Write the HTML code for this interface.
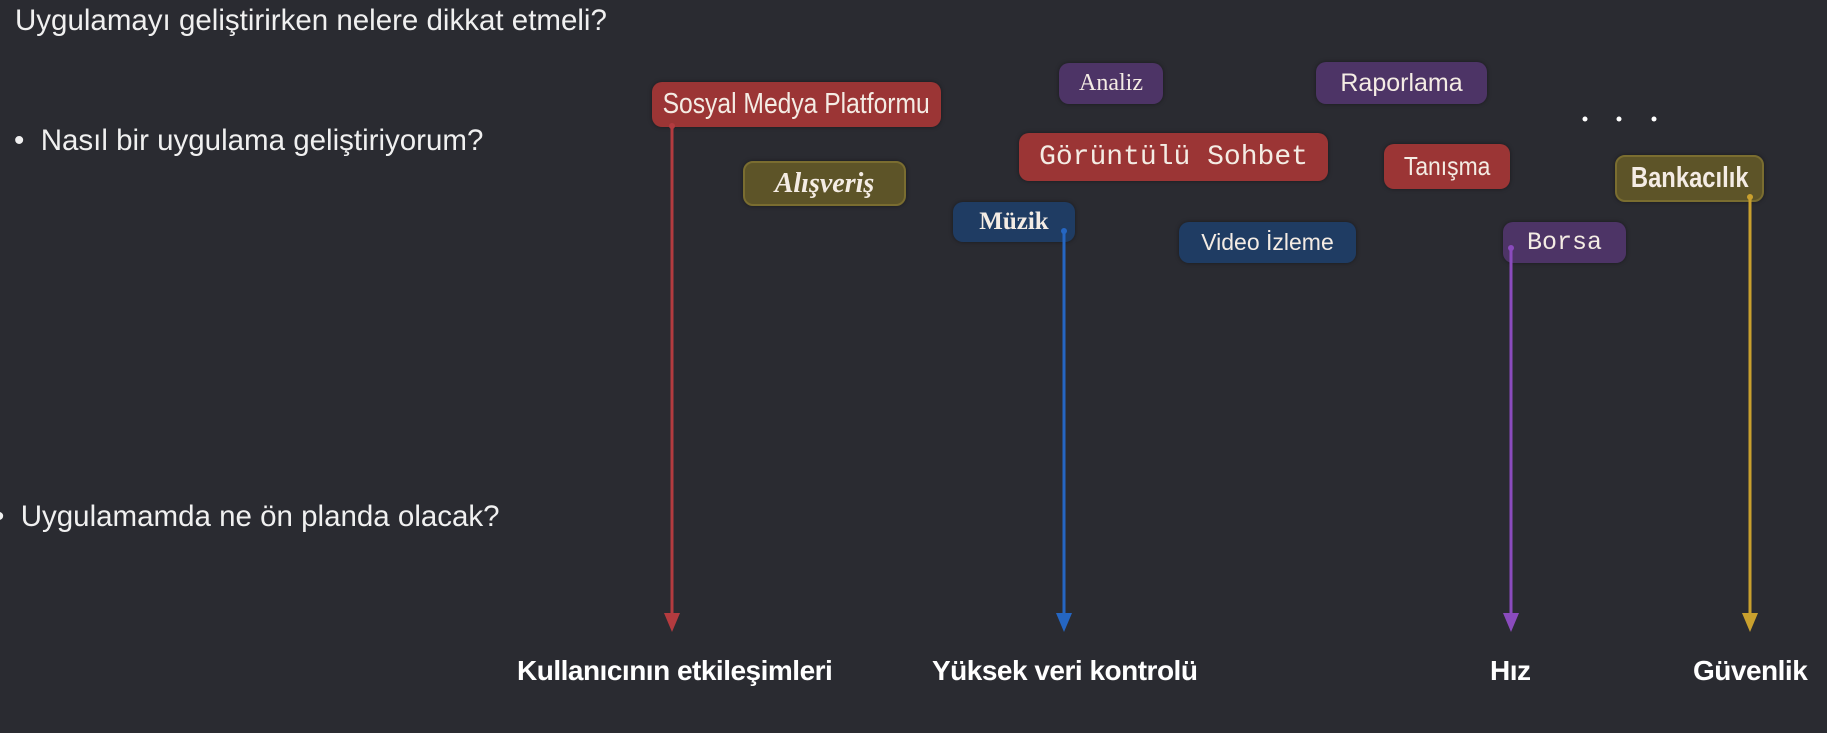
<!DOCTYPE html>
<html><head><meta charset="utf-8"><style>
html,body{margin:0;padding:0}
body{width:1827px;height:733px;background:#2a2b31;position:relative;overflow:hidden;font-family:"Liberation Sans",sans-serif;color:#f0f0f0}
.t{position:absolute;white-space:nowrap;font-size:29.5px}
.b{position:absolute;border-radius:10px;display:flex;align-items:center;justify-content:center;color:#f4ece4;white-space:nowrap;box-shadow:0 0 4px rgba(0,0,0,.4)}
.b span{display:inline-block}
.red{background:#9b3535}.oli{background:#5d5428;border:2px solid #7a6d30;box-sizing:border-box}.pur{background:#4d3466}.blu{background:#1f3c63}
.lab{position:absolute;top:655px;font-weight:bold;font-size:28px;color:#fff;white-space:nowrap;letter-spacing:-0.5px}
</style></head><body>
<div class="t" style="left:15px;top:4px">Uygulamayı geliştirirken nelere dikkat etmeli?</div>
<div class="t" style="left:14px;top:124px">•&nbsp; Nasıl bir uygulama geliştiriyorum?</div>
<div class="t" style="left:-6px;top:500px">•&nbsp; Uygulamamda ne ön planda olacak?</div>

<div class="b red" style="left:652px;top:82px;width:289px;height:45px;font-size:29px"><span style="transform:scaleX(0.85)">Sosyal Medya Platformu</span></div>
<div class="b oli" style="left:743px;top:161px;width:163px;height:45px;font-family:'Liberation Serif',serif;font-style:italic;font-weight:bold;font-size:28px">Alışveriş</div>
<div class="b pur" style="left:1059px;top:63px;width:104px;height:41px;font-family:'Liberation Serif',serif;font-size:24px">Analiz</div>
<div class="b red" style="left:1019px;top:133px;width:309px;height:48px;font-family:'Liberation Mono',monospace;font-size:28px">Görüntülü Sohbet</div>
<div class="b blu" style="left:953px;top:202px;width:122px;height:40px;font-family:'Liberation Serif',serif;font-weight:bold;font-size:25px">Müzik</div>
<div class="b blu" style="left:1179px;top:222px;width:177px;height:41px;font-size:23px">Video İzleme</div>
<div class="b pur" style="left:1316px;top:62px;width:171px;height:42px;font-size:25px">Raporlama</div>
<div class="b red" style="left:1384px;top:144px;width:126px;height:45px;font-size:26px"><span style="transform:scaleX(0.88)">Tanışma</span></div>
<div class="b oli" style="left:1615px;top:155px;width:149px;height:47px;font-weight:bold;font-size:29px"><span style="transform:scaleX(0.82)">Bankacılık</span></div>
<div class="b pur" style="left:1503px;top:222px;width:123px;height:41px;font-family:'Liberation Mono',monospace;font-size:25px">Borsa</div>

<svg style="position:absolute;left:0;top:0" width="1827" height="733">
<g fill="#fff"><circle cx="1585" cy="119" r="2.5"/><circle cx="1619" cy="119" r="2.5"/><circle cx="1654" cy="119" r="2.5"/></g>
<g stroke-width="3">
<line x1="672" y1="126" x2="672" y2="615" stroke="#b33b3f"/>
<line x1="1064" y1="231" x2="1064" y2="615" stroke="#2566c2"/>
<line x1="1511" y1="248" x2="1511" y2="615" stroke="#8a4bbd"/>
<line x1="1750" y1="195" x2="1750" y2="615" stroke="#c9a02e"/>
</g>
<circle cx="672" cy="126" r="3" fill="#b33b3f"/><circle cx="1064" cy="231" r="3" fill="#2566c2"/><circle cx="1511" cy="248" r="3" fill="#8a4bbd"/><circle cx="1750" cy="197" r="3" fill="#c9a02e"/>
<polygon points="664,613 680,613 672,632" fill="#b33b3f"/>
<polygon points="1056,613 1072,613 1064,632" fill="#2566c2"/>
<polygon points="1503,613 1519,613 1511,632" fill="#8a4bbd"/>
<polygon points="1742,613 1758,613 1750,632" fill="#c9a02e"/>
</svg>

<div class="lab" style="left:517px">Kullanıcının etkileşimleri</div>
<div class="lab" style="left:932px">Yüksek veri kontrolü</div>
<div class="lab" style="left:1490px">Hız</div>
<div class="lab" style="left:1693px">Güvenlik</div>
</body></html>
